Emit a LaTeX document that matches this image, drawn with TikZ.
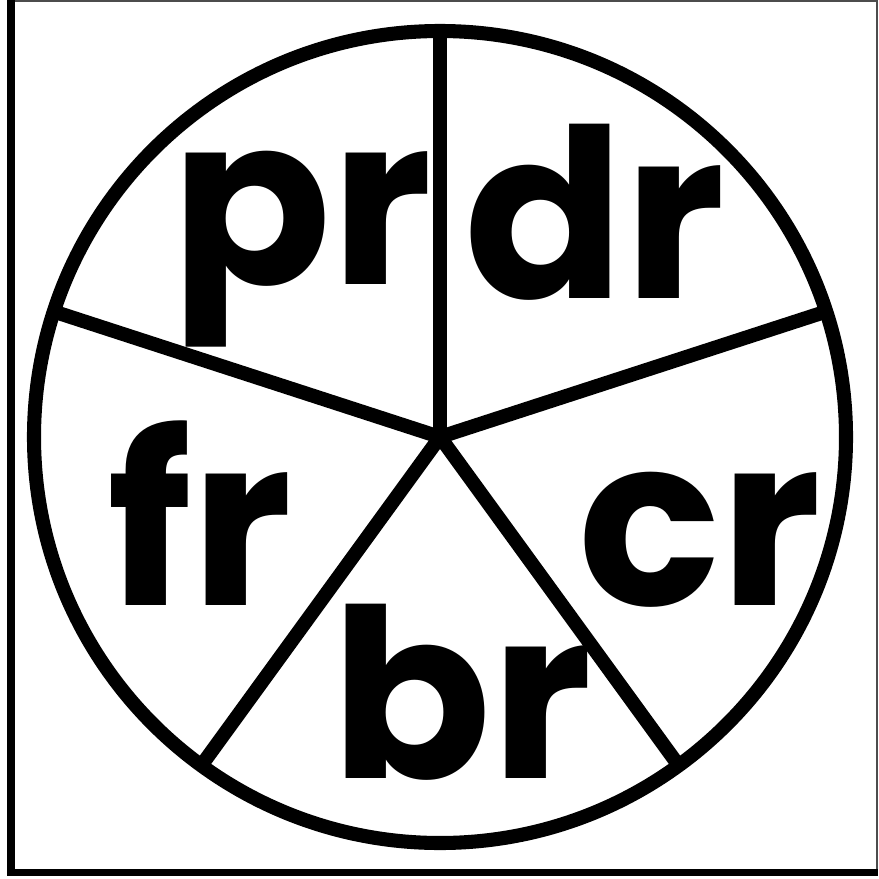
\documentclass[tikz,border=0pt]{standalone}
\usepackage{fontspec}
\setmainfont{Poppins}
\usepackage{tikz}
\usetikzlibrary{calc}
\tikzset{
  wheelline/.style={line width=4pt,draw=black},
  sectorlabel/.style={anchor=base,font=\fontsize{67}{67}\selectfont\bfseries,inner sep=0pt},
  frameline/.style={line width=2.2pt,draw=black}
}

\begin{document}
\begin{tikzpicture}[x=0.01cm,y=-0.01cm]
  \useasboundingbox (0,0) rectangle (879,879);
  % frame
  \draw[line width=0.6pt,black!70] (11,1) -- (877,1) -- (877,872);
  \draw[frameline] (11,0) -- (11,872.5) -- (877.5,872.5);
  % wheel
  \coordinate (c) at (440,437);
  \draw[wheelline] (c) circle[radius=406];
  \foreach \ang/\nm in {90/top,18/right,-54/lowright,-126/lowleft,162/left}
    \draw[wheelline] (c) -- ($(c)+(\ang:406 and -406)$) coordinate (\nm);
  % labels
  \node[sectorlabel] (pr) at (302,284) {pr};
  \node[sectorlabel] (dr) at (595,298) {dr};
  \node[sectorlabel] (cr) at (700,605) {cr};
  \node[sectorlabel] (br) at (462,778) {br};
  \node[sectorlabel] (fr) at (200,605) {fr};
\end{tikzpicture}
\end{document}
